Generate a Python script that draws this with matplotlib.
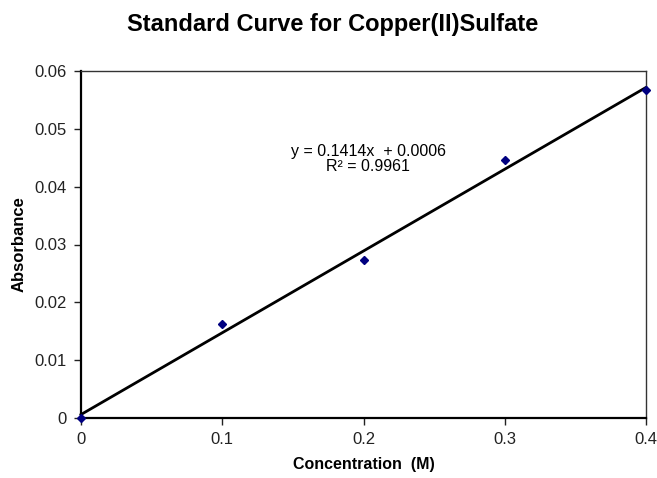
import matplotlib
matplotlib.use("Agg")
import matplotlib.pyplot as plt
import numpy as np

plt.rcParams['font.family'] = ['Liberation Sans', 'DejaVu Sans']

concentration = [0.0, 0.1, 0.2, 0.3, 0.4]
absorbance = [0.0, 0.0163, 0.0274, 0.0446, 0.0567]
slope = 0.1414
intercept = 0.0006
r_squared = 0.9961
x_ticks = [0, 0.1, 0.2, 0.3, 0.4]
x_tick_labels = ['0', '0.1', '0.2', '0.3', '0.4']
y_ticks = [0, 0.01, 0.02, 0.03, 0.04, 0.05, 0.06]
y_tick_labels = ['0', '0.01', '0.02', '0.03', '0.04', '0.05', '0.06']

fig = plt.figure(figsize=(6.57, 4.78), dpi=100)
ax = fig.add_axes([81/657, 1-418/478, (646-81)/657, (418-71)/478])

xs = np.array([0.0, 0.4])
ax.plot(xs, slope*xs + intercept, color='black', lw=2, zorder=2, clip_on=False)
ax.plot(concentration, absorbance, linestyle='none', marker='D', markersize=4.5,
        color='#000080', zorder=3, clip_on=False)

ax.set_xlim(0, 0.4)
ax.set_ylim(0, 0.06)
ax.set_xticks(x_ticks)
ax.set_xticklabels(x_tick_labels)
ax.set_yticks(y_ticks)
ax.set_yticklabels(y_tick_labels)
ax.tick_params(direction='out', length=5, width=1, labelsize=12, colors='#222222', pad=5)
for side in ['left', 'bottom']:
    ax.spines[side].set_linewidth(1.6)
    ax.spines[side].set_color('black')
for side in ['top', 'right']:
    ax.spines[side].set_linewidth(1.0)
    ax.spines[side].set_color('#333333')

ax.set_xlabel('Concentration  (M)', fontsize=11.5, fontweight='bold', labelpad=7)
ax.set_ylabel('Absorbance', fontsize=12, fontweight='bold', labelpad=6)
fig.text(333/657, 1-24/478, 'Standard Curve for Copper(II)Sulfate', ha='center', va='center',
         fontsize=17, fontweight='bold')

ax.text(0.1488, 0.0461, f'y = {slope}x  + {intercept}', fontsize=11.5, ha='left', va='center')
ax.text(0.2032, 0.0435, f'R² = {r_squared}', fontsize=11.5, ha='center', va='center')

fig.savefig('out.png', dpi=100)
